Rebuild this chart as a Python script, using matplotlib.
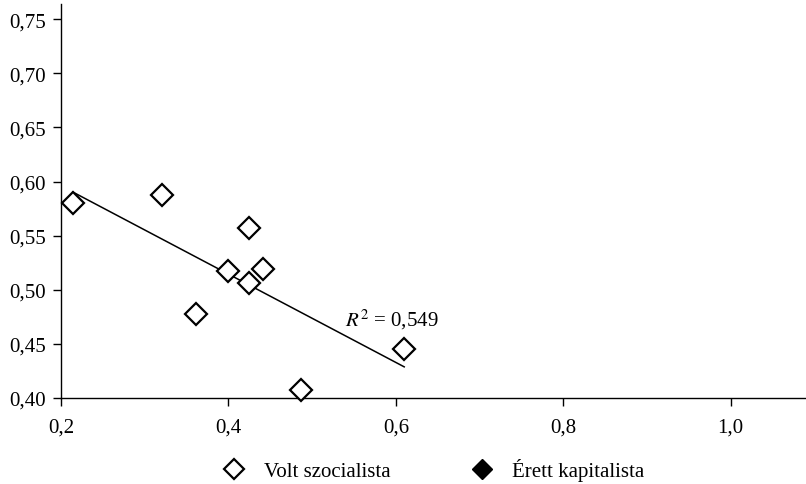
import numpy as np
import matplotlib
matplotlib.use('Agg')
import matplotlib.pyplot as plt
from matplotlib.ticker import FuncFormatter
from matplotlib.lines import Line2D

# Volt szocialista countries (x, y)
volt_x = [0.214, 0.321, 0.424, 0.399, 0.441, 0.424, 0.361, 0.487, 0.610]
volt_y = [0.580, 0.588, 0.557, 0.517, 0.519, 0.506, 0.478, 0.407, 0.445]
# Érett kapitalista: no points shown in this panel
erett_x = []
erett_y = []

x_ticks = [0.2, 0.4, 0.6, 0.8, 1.0]
y_ticks = [0.40, 0.45, 0.50, 0.55, 0.60, 0.65, 0.70, 0.75]
r2_label = "0,549"

plt.rcParams['font.family'] = ['Liberation Serif', 'DejaVu Serif']
plt.rcParams['mathtext.fontset'] = 'stix'
fs = 15

fig = plt.figure(figsize=(8.06, 4.85), dpi=100)
ax = fig.add_axes([0.0757, 0.1773, 0.9243, 0.8124])

ax.plot(volt_x, volt_y, linestyle='none', marker='D', markersize=11,
        markerfacecolor='white', markeredgecolor='black', markeredgewidth=1.6,
        clip_on=False, zorder=3)
ax.plot(erett_x, erett_y, linestyle='none', marker='D', markersize=11,
        color='black')

# linear trend line
coef = np.polyfit(volt_x, volt_y, 1)
xs = np.array([min(volt_x), max(volt_x)])
ax.plot(xs, np.polyval(coef, xs), color='black', linewidth=1.1, zorder=2)
ax.text(0.539, 0.4735, r'$R^2$ = ' + r2_label, fontsize=fs, ha='left', va='center')

ax.set_xlim(0.2, 1.09)
ax.set_ylim(0.40, 0.764)
ax.set_xticks(x_ticks)
ax.set_yticks(y_ticks)
ax.xaxis.set_major_formatter(FuncFormatter(lambda v, p: f"{v:.1f}".replace('.', ',')))
ax.yaxis.set_major_formatter(FuncFormatter(lambda v, p: f"{v:.2f}".replace('.', ',')))
ax.tick_params(direction='out', length=6, width=1, labelsize=fs, colors='black')
ax.tick_params(axis='x', pad=8)
ax.tick_params(axis='y', pad=5)

for side in ['top', 'right']:
    ax.spines[side].set_visible(False)
for side in ['left', 'bottom']:
    ax.spines[side].set_linewidth(1)

handles = [
    Line2D([], [], linestyle='none', marker='D', markersize=10.5, markerfacecolor='white',
           markeredgecolor='black', markeredgewidth=1.6, label='Volt szocialista'),
    Line2D([], [], linestyle='none', marker='D', markersize=10.5, color='black',
           label='Érett kapitalista'),
]
fig.legend(handles=handles, loc='center', bbox_to_anchor=(0.532, 0.03), ncol=2,
           frameon=False, fontsize=fs, columnspacing=3.4, handletextpad=0.45,
           borderaxespad=0, borderpad=0)

fig.savefig('out.png', dpi=100)
